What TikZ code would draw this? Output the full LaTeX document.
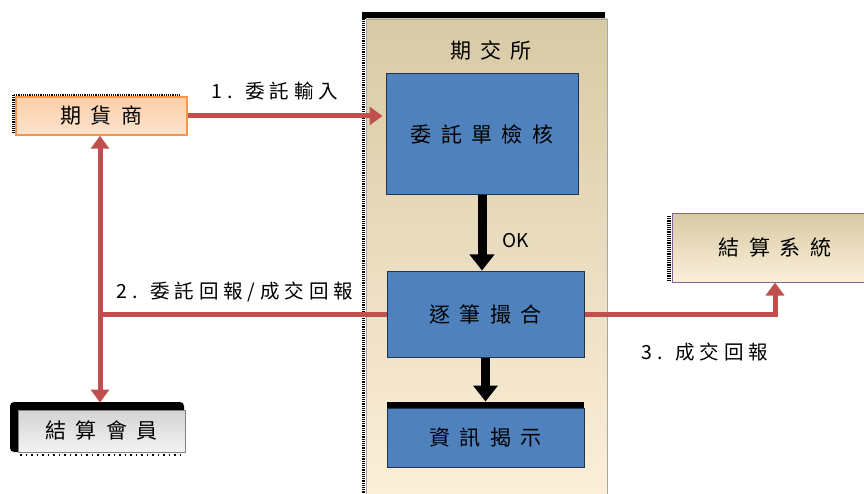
\documentclass[tikz,border=0pt]{standalone}
\usepackage{fontspec}
\newfontfamily\cjkwide[LetterSpace=45]{Noto Sans CJK TC}
\newfontfamily\cjkmid[LetterSpace=25]{Noto Sans CJK TC}
\newfontfamily\cjk{Noto Sans CJK TC}
\usetikzlibrary{arrows.meta}
\definecolor{rline}{HTML}{C0504D}
\definecolor{bfill}{HTML}{4F81BD}
\definecolor{bdraw}{HTML}{1F3350}
\definecolor{ctop}{HTML}{D8CAA5}
\definecolor{cbot}{HTML}{FCEFD9}
\definecolor{otop}{HTML}{FBCFAA}
\definecolor{obot}{HTML}{FDE2CC}
\definecolor{odraw}{HTML}{F79646}
\definecolor{pdraw}{HTML}{8064A2}
\definecolor{gtop}{HTML}{D4D4D4}
\definecolor{gbot}{HTML}{F2F2F2}
\begin{document}
\begin{tikzpicture}[x=1pt,y=-1pt,
  boxfont/.style={font=\cjkwide\fontsize{21}{24}\selectfont},
  lblfont/.style={font=\cjkmid\fontsize{19.5}{22}\selectfont},
  bluebox/.style={draw=bdraw,line width=1pt,fill=bfill,boxfont,inner sep=0pt},
  rarrow/.style={draw=rline,line width=5pt,-{Triangle[width=18pt,length=13pt]}},
  rpath/.style={draw=rline,line width=5pt},
  barrow/.style={draw=black,line width=9pt,-{Triangle[width=24pt,length=16pt]}},
  hatch/.style={draw=black,line width=3.5pt,dash pattern=on 1.2pt off 1pt}
]
\useasboundingbox (0,0) rectangle (864,494);
% container
\fill[black] (362,12) rectangle (605,19);
\draw[hatch] (363.5,14) -- (363.5,494);
\node[draw=gray!70,line width=0.8pt,top color=ctop,bottom color=cbot,minimum width=241pt,minimum height=476pt,inner sep=0pt] (cont) at (486.5,257) {};
\node[boxfont] (ctitle) at (491,50) {期交所};
% blue boxes
\node[bluebox,minimum width=192pt,minimum height=121pt] (b1) at (482,134.5) {委託單檢核};
\node[bluebox,minimum width=197pt,minimum height=86pt] (b2) at (485.5,314) {逐筆撮合};
\fill[black] (387,402) rectangle (584,410);
\node[bluebox,minimum width=197pt,minimum height=59pt] (b3) at (485.5,437.5) {資訊揭示};
% left box
\draw[black,line width=2.5pt,dash pattern=on 1.2pt off 1pt] (14,95) -- (180,95);
\draw[hatch] (13.5,95) -- (13.5,133);
\node[draw=odraw,line width=1.5pt,top color=otop,bottom color=obot,minimum width=171pt,minimum height=38pt,boxfont,inner sep=0pt] (lbox) at (101.5,116) {期貨商};
% right box
\draw[hatch] (669,216) -- (669,280);
\node[draw=pdraw,line width=1pt,top color=ctop,bottom color=cbot,minimum width=206pt,minimum height=68pt,boxfont,inner sep=0pt] (rbox) at (775,248) {結算系統};
% bottom-left box
\fill[black,rounded corners=4pt] (10,402) rectangle (184,452);
\draw[black,line width=1.5pt,dash pattern=on 1.5pt off 4pt] (20,455) -- (180,455);
\node[draw=gray,line width=0.8pt,top color=gtop,bottom color=gbot,minimum width=167pt,minimum height=42pt,boxfont,inner sep=0pt] (blbox) at (101.5,431) {結算會員};
% connectors
\coordinate (j) at (100,314);
\draw[rpath] (b2.west) -- (j);
\draw[rarrow] (j) -- (j |- lbox.south);
\draw[rarrow,shorten >=7pt] (j) -- (j |- blbox.north);
\draw[rarrow,shorten >=3pt] (lbox.east) -- (lbox.east -| b1.west);
\draw[rarrow] (b2.east) -| (rbox.south);
\draw[barrow] (b1.south) -- (b1.south |- b2.north);
\draw[barrow,shorten >=6pt] (b2.south) -- (b2.south |- b3.north);
% labels
\node[lblfont] (l1) at (275,91) {1. 委託輸入};
\node[lblfont] (l2) at (235,292) {2. 委託回報/成交回報};
\node[lblfont] (l3) at (705,352) {3. 成交回報};
\node[font=\cjk\fontsize{19}{22}\selectfont] (ok) at (516,241) {OK};
\end{tikzpicture}
\end{document}
